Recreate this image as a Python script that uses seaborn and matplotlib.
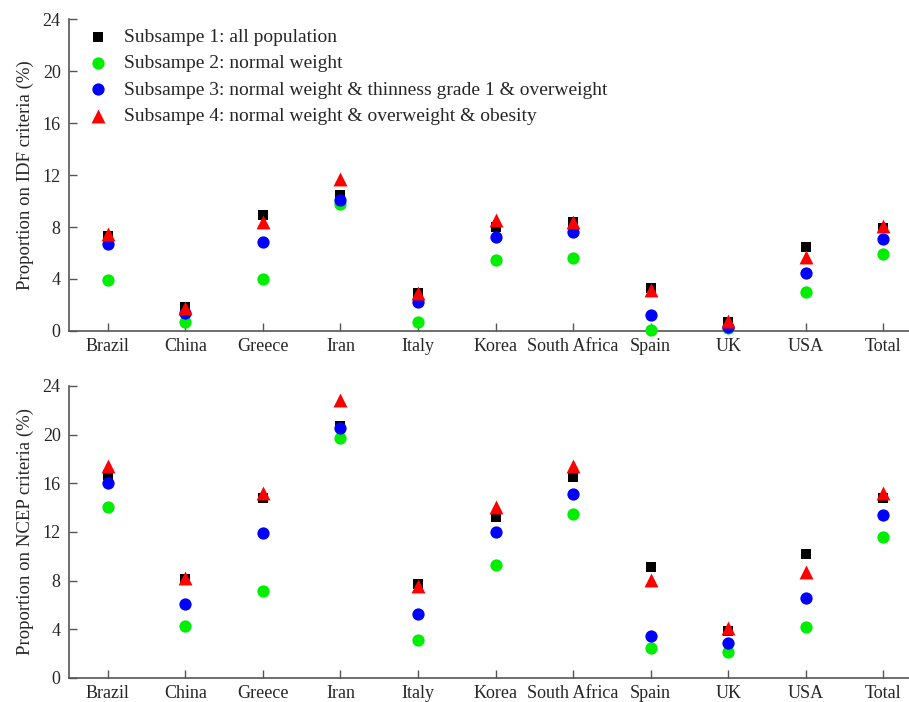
import numpy as np
import pandas as pd
import matplotlib
matplotlib.use("Agg")
import matplotlib.pyplot as plt
import seaborn as sns

countries = ["Brazil", "China", "Greece", "Iran", "Italy", "Korea",
             "South Africa", "Spain", "UK", "USA", "Total"]
labels = ["Subsampe 1: all population",
          "Subsampe 2: normal weight",
          "Subsampe 3: normal weight & thinness grade 1 & overweight",
          "Subsampe 4: normal weight & overweight & obesity"]

idf_s1 = [7.3, 1.87, 8.92, 10.46, 2.9, 8.03, 8.36, 3.28, 0.72, 6.44, 7.9]
idf_s2 = [3.92, 0.67, 4.0, 9.74, 0.67, 5.46, 5.59, 0.08, 0.2, 3.0, 5.9]
idf_s3 = [6.7, 1.36, 6.87, 10.08, 2.26, 7.26, 7.64, 1.23, 0.33, 4.44, 7.08]
idf_s4 = [7.46, 1.77, 8.4, 11.69, 2.95, 8.54, 8.4, 3.15, 0.8, 5.72, 8.08]

ncep_s1 = [16.69, 8.15, 14.78, 20.7, 7.74, 13.27, 16.5, 9.16, 3.83, 10.18, 14.78]
ncep_s2 = [14.06, 4.24, 7.11, 19.7, 3.09, 9.28, 13.49, 2.46, 2.13, 4.21, 11.6]
ncep_s3 = [16.06, 6.07, 11.9, 20.58, 5.28, 11.96, 15.1, 3.42, 2.87, 6.54, 13.4]
ncep_s4 = [17.43, 8.2, 15.19, 22.85, 7.52, 14.09, 17.43, 8.07, 4.1, 8.73, 15.19]

yticks = [0, 4, 8, 12, 16, 20, 24]

colors = ["#000000", "#00ee00", "#0000ff", "#ff0000"]
markers = ["s", "o", "o", "^"]
sizes = [55, 78, 78, 100]


def long_df(series):
    rows = []
    for lab, vals in zip(labels, series):
        for c, v in zip(countries, vals):
            rows.append({"country": c, "value": v, "subsample": lab})
    return pd.DataFrame(rows)


sns.set_style("ticks")
plt.rcParams["font.family"] = ["Liberation Serif", "DejaVu Serif"]
plt.rcParams["font.size"] = 13

fig = plt.figure(figsize=(9.09, 7.02), dpi=100)
ax1 = fig.add_axes([0.0759, 0.5285, 0.93, 0.4444])
ax2 = fig.add_axes([0.0759, 0.0342, 0.93, 0.416])

panels = [(ax1, [idf_s1, idf_s2, idf_s3, idf_s4], "Proportion on IDF criteria (%)"),
          (ax2, [ncep_s1, ncep_s2, ncep_s3, ncep_s4], "Proportion on NCEP criteria (%)")]

for ax, series, ylab in panels:
    df = long_df(series)
    for lab, col, mk, sz in zip(labels, colors, markers, sizes):
        sub = df[df["subsample"] == lab]
        sns.scatterplot(data=sub, x="country", y="value", color=col, marker=mk,
                        s=sz, linewidth=0, ax=ax, label=lab, zorder=3, clip_on=False)
    ax.set_xlim(-0.5, 10.4)
    ax.set_ylim(0, 24)
    ax.set_yticks(yticks)
    ax.set_xticks(range(len(countries)))
    ax.set_xticklabels(countries)
    ax.set_xlabel("")
    ax.set_ylabel(ylab, fontsize=13.5, labelpad=6)
    for s in ["top", "right"]:
        ax.spines[s].set_visible(False)
    for s in ["left", "bottom"]:
        ax.spines[s].set_color("#555555")
        ax.spines[s].set_linewidth(1.2)
    ax.tick_params(direction="in", length=6, width=1.0, color="#555555",
                   labelsize=13, pad=6)
    ax.tick_params(axis="x", pad=5)
    if ax is ax1:
        h, l = ax.get_legend_handles_labels()
        ax.legend(h, l, loc="upper left", bbox_to_anchor=(-0.002, 1.008), frameon=False,
                  fontsize=14, handletextpad=0.3, labelspacing=0.45,
                  borderaxespad=0.2, markerscale=1.0)
    else:
        lg = ax.get_legend()
        if lg is not None:
            lg.remove()

fig.savefig("out.png", dpi=100)
